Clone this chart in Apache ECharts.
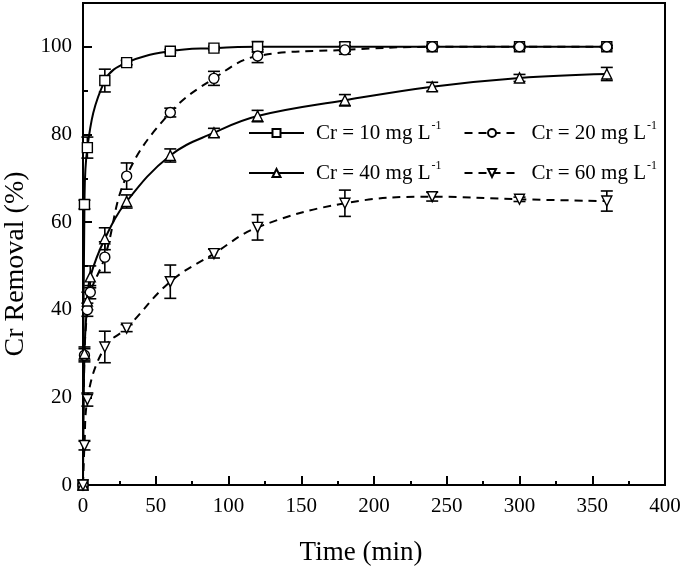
<!DOCTYPE html>
<html>
<head>
<meta charset="utf-8">
<script src="https://cdn.jsdelivr.net/npm/echarts@6/dist/echarts.min.js"></script>
<style>html,body{margin:0;padding:0;background:#fff;}#c{width:685px;height:571px;}</style>
</head>
<body>
<div id="c"></div>
<script>
// ---- data ----
const seriesNames = ['Cr = 10 mg L-1', 'Cr = 20 mg L-1', 'Cr = 40 mg L-1', 'Cr = 60 mg L-1'];
const xTicks = [0, 50, 100, 150, 200, 250, 300, 350, 400];
const yTicks = [0, 20, 40, 60, 80, 100];

const t10 = [0, 1, 3, 15, 30, 60, 90, 120, 180, 240, 300, 360];
const cr10 = [0, 64, 77, 92.3, 96.4, 99.0, 99.7, 100, 100, 100, 100, 100];
const e10 = [0, 1.0, 2.4, 2.6, 0.5, 0.4, 0.4, 1.2, 1.0, 0.3, 0.3, 0.3];

const t20 = [0, 1, 3, 5, 15, 30, 60, 90, 120, 180, 240, 300, 360];
const cr20 = [0, 29.6, 40, 44, 52, 70.5, 85, 92.8, 97.9, 99.3, 100, 100, 100];
const e20 = [0, 1.5, 1.5, 1.5, 3.5, 3.0, 1.0, 1.6, 1.5, 1.0, 0.3, 0.3, 0.3];

const t40 = [0, 1, 3, 5, 15, 30, 60, 90, 120, 180, 240, 300, 360];
const cr40 = [0, 30, 42, 47.5, 56.2, 64.7, 75.2, 80.4, 84.2, 87.8, 90.9, 92.9, 93.8];
const e40 = [0, 1.5, 2.0, 2.5, 2.5, 1.5, 1.5, 1.0, 1.3, 1.3, 1.0, 0.8, 1.5];

const t60 = [0, 1, 3, 15, 30, 60, 90, 120, 180, 240, 300, 360];
const cr60 = [0, 9, 19.5, 31.5, 35.8, 46.4, 52.8, 58.8, 64.3, 65.8, 65.2, 64.8];
const e60 = [0, 1.0, 1.5, 3.6, 0.8, 3.8, 1.0, 2.9, 3.0, 1.0, 0.5, 2.3];

// ---- build ----
const FONT = "'Liberation Serif','Times New Roman',serif";
const pairs = (t, v) => t.map((x, i) => [x, v[i]]);
const errs = (t, v, e) => t.map((x, i) => [x, v[i] - e[i], v[i] + e[i]]).filter((d, i) => e[i] > 0);

function errRender(params, api) {
  const x = api.value(0), lo = api.value(1), hi = api.value(2);
  const a = api.coord([x, lo]), b = api.coord([x, hi]);
  const hw = 6;
  const st = { stroke: '#000', lineWidth: 1.6 };
  return {
    type: 'group',
    children: [
      { type: 'line', shape: { x1: a[0], y1: a[1], x2: b[0], y2: b[1] }, style: st },
      { type: 'line', shape: { x1: a[0] - hw, y1: a[1], x2: a[0] + hw, y2: a[1] }, style: st },
      { type: 'line', shape: { x1: b[0] - hw, y1: b[1], x2: b[0] + hw, y2: b[1] }, style: st }
    ]
  };
}

const defs = [
  { name: seriesNames[0], data: pairs(t10, cr10), err: errs(t10, cr10, e10), symbol: 'rect', rot: 0, dash: 'solid' },
  { name: seriesNames[1], data: pairs(t20, cr20), err: errs(t20, cr20, e20), symbol: 'circle', rot: 0, dash: [8, 6] },
  { name: seriesNames[2], data: pairs(t40, cr40), err: errs(t40, cr40, e40), symbol: 'triangle', rot: 0, dash: 'solid' },
  { name: seriesNames[3], data: pairs(t60, cr60), err: errs(t60, cr60, e60), symbol: 'triangle', rot: 180, dash: [8, 6] }
];

const series = [];
defs.forEach(d => {
  series.push({
    name: d.name, type: 'line', data: d.data,
    smooth: 0.4,
    symbol: d.symbol, symbolSize: 10, symbolRotate: d.rot,
    showAllSymbol: true,
    lineStyle: { color: '#000', width: 2, type: d.dash },
    itemStyle: { color: '#fff', borderColor: '#000', borderWidth: 1.4 },
    z: 3, animation: false
  });
  series.push({
    name: d.name + ' err', type: 'custom', data: d.err, renderItem: errRender,
    encode: { x: 0, y: [1, 2] }, z: 2, silent: true, animation: false
  });
});

const legendFmt = name => {
  const base = name.replace(/-1$/, '');
  return '{a|' + base + '}{s|-1}';
};
const legendText = {
  fontFamily: FONT, color: '#000',
  rich: {
    a: { fontFamily: FONT, fontSize: 21, color: '#000', padding: [0, 0, 0, 7] },
    s: { fontFamily: FONT, fontSize: 12, color: '#000', padding: [0, 0, 14, 1] }
  }
};
const legendCommon = {
  itemWidth: 55, itemHeight: 10, itemGap: 22, formatter: legendFmt, textStyle: legendText,
  selectedMode: false, left: 243
};

const option = {
  backgroundColor: '#fff',
  animation: false,
  grid: { left: 83, right: 20, top: 3, bottom: 86, outerBoundsMode: 'none', containLabel: false,
    show: true, borderColor: '#000', borderWidth: 2, backgroundColor: 'transparent' },
  legend: [
    Object.assign({}, legendCommon, { top: 115, data: [seriesNames[0], seriesNames[1]] }),
    Object.assign({}, legendCommon, { top: 155, data: [seriesNames[2], seriesNames[3]] })
  ],
  xAxis: {
    type: 'value', min: xTicks[0], max: xTicks[xTicks.length - 1], interval: 50,
    name: 'Time (min)', nameLocation: 'middle', nameGap: 54,
    nameTextStyle: { fontFamily: FONT, fontSize: 27, color: '#000', padding: [0, 26, 0, 0] },
    axisLine: { lineStyle: { color: '#000', width: 2 } },
    axisTick: { inside: true, length: 9, lineStyle: { color: '#000', width: 2 } },
    minorTick: { show: true, splitNumber: 2, length: 4, lineStyle: { color: '#000', width: 2 } },
    axisLabel: { fontFamily: FONT, fontSize: 21, color: '#000', margin: 11 },
    splitLine: { show: false }
  },
  yAxis: {
    type: 'value', min: 0, max: 110, interval: 20,
    name: 'Cr Removal (%)', nameLocation: 'middle', nameGap: 53,
    nameTextStyle: { fontFamily: FONT, fontSize: 28, color: '#000', padding: [0, 40, 0, 0] },
    axisLine: { lineStyle: { color: '#000', width: 2 } },
    axisTick: { inside: true, length: 9, lineStyle: { color: '#000', width: 2 } },
    minorTick: { show: true, splitNumber: 2, length: 5, lineStyle: { color: '#000', width: 2 } },
    axisLabel: { fontFamily: FONT, fontSize: 21, color: '#000', margin: 11, showMaxLabel: false,
      formatter: v => (yTicks.indexOf(v) >= 0 ? String(v) : '') },
    splitLine: { show: false }
  },
  series: series
};

const chart = echarts.init(document.getElementById('c'), null, { renderer: 'canvas' });
chart.setOption(option);
</script>
</body>
</html>
